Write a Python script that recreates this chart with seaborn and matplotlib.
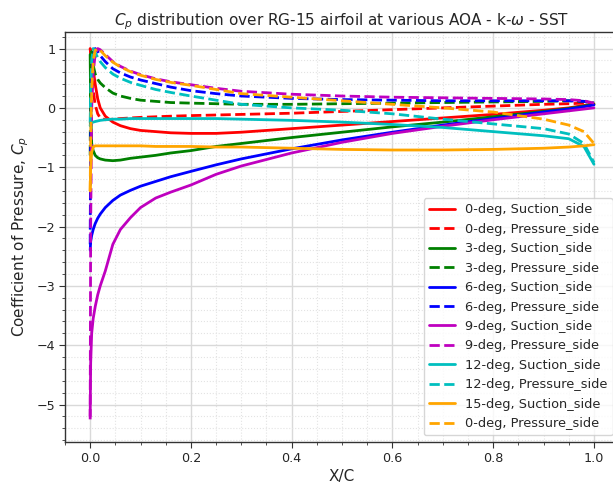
import numpy as np
import pandas as pd
import matplotlib
matplotlib.use("Agg")
import matplotlib.pyplot as plt
import seaborn as sns
from matplotlib.ticker import MultipleLocator

# chordwise stations (x/c)
x_c = [0.0, 0.001, 0.003, 0.006, 0.01, 0.015, 0.02, 0.03, 0.045, 0.06, 0.08, 0.1, 0.13,
       0.16, 0.2, 0.25, 0.3, 0.4, 0.5, 0.6, 0.7, 0.8, 0.9, 0.95, 0.98, 1.0]

cp_0_suc = [1.0, 0.95, 0.85, 0.65, 0.4, 0.15, 0.0, -0.14, -0.24, -0.3, -0.35, -0.38, -0.4,
            -0.42, -0.43, -0.43, -0.41, -0.35, -0.29, -0.23, -0.17, -0.11, -0.04, 0.0, 0.04, 0.07]
cp_0_pre = [1.0, 0.9, 0.6, 0.3, 0.05, -0.1, -0.17, -0.2, -0.19, -0.18, -0.17, -0.16, -0.15,
            -0.14, -0.13, -0.12, -0.11, -0.09, -0.06, -0.03, 0.0, 0.03, 0.06, 0.07, 0.08, 0.07]
cp_3_suc = [0.9, 0.0, -0.6, -0.72, -0.8, -0.84, -0.86, -0.88, -0.89, -0.88, -0.85, -0.83, -0.8,
            -0.76, -0.72, -0.65, -0.6, -0.5, -0.41, -0.32, -0.24, -0.15, -0.06, -0.01, 0.03, 0.06]
cp_3_pre = [-0.8, 0.7, 0.95, 0.72, 0.57, 0.48, 0.42, 0.34, 0.25, 0.2, 0.16, 0.13, 0.11,
            0.09, 0.08, 0.07, 0.06, 0.06, 0.07, 0.08, 0.09, 0.1, 0.11, 0.12, 0.11, 0.08]
cp_6_suc = [-2.4, -2.25, -2.15, -2.05, -1.95, -1.86, -1.79, -1.68, -1.56, -1.47, -1.39, -1.32, -1.24,
            -1.16, -1.07, -0.96, -0.86, -0.69, -0.54, -0.41, -0.29, -0.18, -0.07, -0.02, 0.02, 0.05]
cp_6_pre = [-2.3, -0.5, 0.5, 0.9, 1.0, 0.95, 0.88, 0.78, 0.66, 0.59, 0.52, 0.47, 0.41,
            0.35, 0.29, 0.24, 0.2, 0.16, 0.14, 0.13, 0.12, 0.12, 0.12, 0.12, 0.11, 0.08]
cp_9_suc = [-5.2, -4.3, -3.8, -3.55, -3.35, -3.15, -3.0, -2.75, -2.3, -2.05, -1.85, -1.68, -1.52,
            -1.42, -1.3, -1.12, -0.98, -0.76, -0.58, -0.43, -0.31, -0.2, -0.1, -0.05, -0.02, 0.0]
cp_9_pre = [-5.25, -2.0, 0.0, 0.6, 0.9, 1.0, 0.98, 0.9, 0.78, 0.7, 0.62, 0.56, 0.49,
            0.44, 0.39, 0.33, 0.28, 0.23, 0.2, 0.18, 0.17, 0.16, 0.15, 0.14, 0.12, 0.08]
cp_12_suc = [-0.3, -0.27, -0.25, -0.24, -0.23, -0.22, -0.21, -0.2, -0.19, -0.19, -0.18, -0.18, -0.18,
             -0.18, -0.18, -0.18, -0.19, -0.21, -0.24, -0.28, -0.33, -0.4, -0.47, -0.52, -0.65, -0.95]
cp_12_pre = [-0.25, 0.3, 0.8, 1.0, 0.93, 0.85, 0.78, 0.68, 0.57, 0.5, 0.43, 0.38, 0.31,
             0.26, 0.2, 0.13, 0.06, 0.0, -0.04, -0.1, -0.19, -0.27, -0.35, -0.44, -0.6, -0.92]
cp_15_suc = [-1.4, -1.0, -0.75, -0.66, -0.64, -0.64, -0.64, -0.64, -0.64, -0.64, -0.64, -0.64, -0.65,
             -0.65, -0.65, -0.66, -0.66, -0.68, -0.7, -0.71, -0.71, -0.7, -0.68, -0.66, -0.64, -0.62]
cp_15_pre = [-1.4, -0.5, 0.3, 0.8, 0.97, 1.0, 0.97, 0.88, 0.77, 0.69, 0.61, 0.55, 0.48,
             0.43, 0.38, 0.31, 0.24, 0.18, 0.12, 0.06, 0.0, -0.07, -0.19, -0.29, -0.4, -0.6]

series_cp = [cp_0_suc, cp_0_pre, cp_3_suc, cp_3_pre, cp_6_suc, cp_6_pre,
             cp_9_suc, cp_9_pre, cp_12_suc, cp_12_pre, cp_15_suc, cp_15_pre]
labels = ["0-deg, Suction_side", "0-deg, Pressure_side",
          "3-deg, Suction_side", "3-deg, Pressure_side",
          "6-deg, Suction_side", "6-deg, Pressure_side",
          "9-deg, Suction_side", "9-deg, Pressure_side",
          "12-deg, Suction_side", "12-deg, Pressure_side",
          "15-deg, Suction_side", "0-deg, Pressure_side"]
colors = ["r", "r", "g", "g", "b", "b", "m", "m", "c", "c", "orange", "orange"]
styles = ["-", "--"] * 6

sns.set_style("ticks")
plt.rcParams["font.family"] = ["DejaVu Sans"]

fig = plt.figure(figsize=(6.13, 4.84), dpi=100)
ax = fig.add_axes([0.106, 0.087, 0.904, 0.847])

for cp, lab, col, ls in zip(series_cp, labels, colors, styles):
    df = pd.DataFrame({"x": x_c, "cp": cp})
    sns.lineplot(data=df, x="x", y="cp", sort=False, estimator=None, color=col,
                 linestyle=ls, linewidth=2, label=lab, ax=ax, legend=False)

ax.set_xlim(-0.05, 1.05)
ax.set_ylim(-5.63, 1.28)
ax.xaxis.set_major_locator(MultipleLocator(0.2))
ax.xaxis.set_minor_locator(MultipleLocator(0.05))
ax.yaxis.set_major_locator(MultipleLocator(1))
ax.yaxis.set_minor_locator(MultipleLocator(0.2))
ax.grid(which="major", color="#d9d9d9", linewidth=1.0, linestyle="-")
ax.grid(which="minor", color="#e3e3e3", linewidth=0.8, linestyle=":")
ax.set_axisbelow(True)
for s in ax.spines.values():
    s.set_color("#333333")
    s.set_linewidth(1.0)
ax.tick_params(which="major", labelsize=9.2, length=4, color="#333333", pad=3)
ax.tick_params(which="minor", length=2.5, color="#333333")

ax.set_title(r"$C_p$ distribution over RG-15 airfoil at various AOA - k-$\omega$ - SST",
             fontsize=11, pad=5)
ax.set_xlabel("X/C", fontsize=11, labelpad=3)
ax.set_ylabel(r"Coefficient of Pressure, $C_p$", fontsize=11)
ax.legend(loc="lower right", fontsize=9.3, frameon=True)

fig.savefig("out.png", dpi=100)
